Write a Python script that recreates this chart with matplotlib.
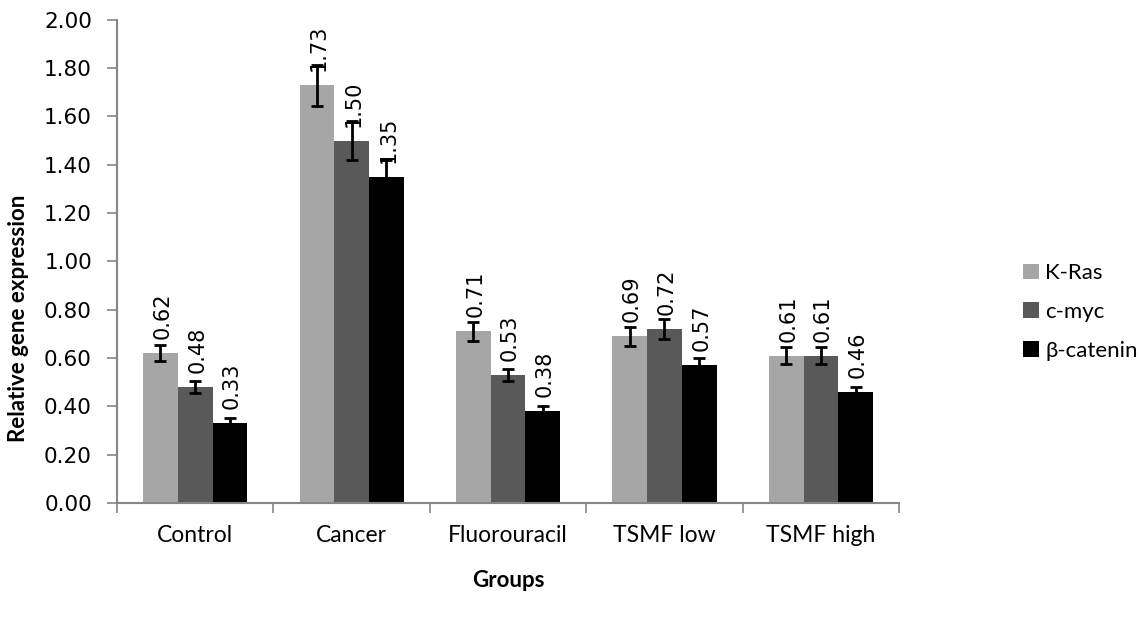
import matplotlib; matplotlib.use('Agg')
import matplotlib.pyplot as plt
import numpy as np

groups = ['Control', 'Cancer', 'Fluorouracil', 'TSMF low', 'TSMF high']
series = ['K-Ras', 'c-myc', 'β-catenin']
kras = [0.62, 1.73, 0.71, 0.69, 0.61]
cmyc = [0.48, 1.50, 0.53, 0.72, 0.61]
bcat = [0.33, 1.35, 0.38, 0.57, 0.46]
kras_err = [0.034, 0.085, 0.04, 0.04, 0.035]
cmyc_err = [0.025, 0.08, 0.025, 0.04, 0.035]
bcat_err = [0.02, 0.07, 0.02, 0.03, 0.02]
colors = ['#a6a6a6', '#595959', '#000000']
yticks = np.arange(0, 2.01, 0.2)

plt.rcParams['font.family'] = ['DejaVu Sans']
lato = ['Lato', 'DejaVu Sans']

fig = plt.figure(figsize=(11.41, 6.20), dpi=100)
ax = fig.add_axes([0.1025, 0.189, 0.6855, 0.779])

x = np.arange(len(groups))
w = 0.222
for i, (vals, errs) in enumerate([(kras, kras_err), (cmyc, cmyc_err), (bcat, bcat_err)]):
    pos = x + (i - 1) * w
    ax.bar(pos, vals, width=w, color=colors[i], label=series[i], zorder=2)
    ax.errorbar(pos, vals, yerr=errs, fmt='none', ecolor='black',
                elinewidth=2, capsize=4, capthick=2, zorder=3)
    for px, v in zip(pos, vals):
        ax.annotate('%.2f' % v, (px, v), xytext=(1.5, 10), textcoords='offset points',
                    rotation=90, ha='center', va='bottom', fontsize=15)

ax.set_xlim(-0.5, len(groups) - 0.5)
ax.set_ylim(0, 2.0)
ax.set_yticks(yticks)
ax.set_yticklabels(['%.2f' % t for t in yticks], fontsize=15.5)
ax.set_xticks(np.arange(-0.5, len(groups), 1.0))
ax.set_xticklabels([])
ax.set_xticks(x, minor=True)
ax.set_xticklabels(groups, minor=True, fontsize=16.5, family=lato)
ax.tick_params(axis='x', which='minor', length=0, pad=16)
ax.tick_params(axis='both', which='major', length=7, width=1.2, color='#868686')
ax.tick_params(axis='y', pad=11)

for s in ['top', 'right']:
    ax.spines[s].set_visible(False)
for s in ['left', 'bottom']:
    ax.spines[s].set_color('#868686')
    ax.spines[s].set_linewidth(1.5)

ax.set_xlabel('Groups', fontsize=16, fontweight='bold', family=lato)
ax.xaxis.set_label_coords(0.5, -0.14)
ax.set_ylabel('Relative gene expression', fontsize=16, fontweight='bold', family=lato)
ax.yaxis.set_label_coords(-0.113, 0.383)

ax.legend(loc='center left', bbox_to_anchor=(0.887, 0.497), bbox_transform=fig.transFigure,
          frameon=False, prop={'family': lato, 'size': 16}, borderpad=0,
          handlelength=0.72, handleheight=0.68, handletextpad=0.27, labelspacing=0.85)

fig.savefig('out.png', dpi=100)
